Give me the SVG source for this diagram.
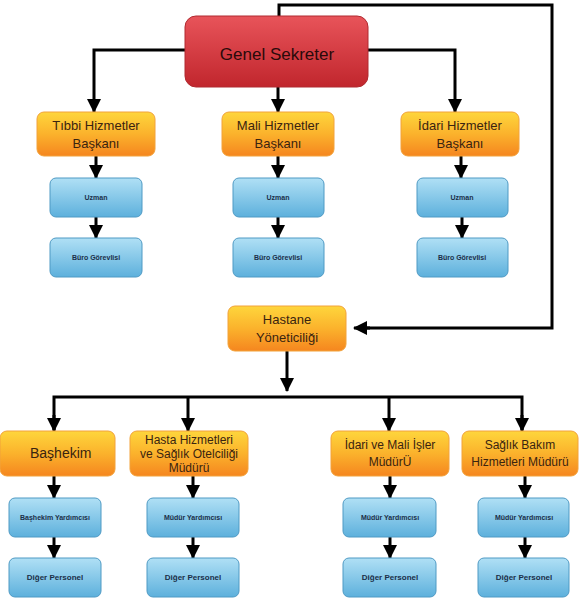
<svg xmlns="http://www.w3.org/2000/svg" width="579" height="613" viewBox="0 0 579 613">
<defs>
<linearGradient id="gRed" x1="0" y1="0" x2="0" y2="1"><stop offset="0" stop-color="#e8545a"/><stop offset="1" stop-color="#c1262d"/></linearGradient>
<linearGradient id="gOr" x1="0" y1="0" x2="0" y2="1"><stop offset="0" stop-color="#fed63c"/><stop offset="0.5" stop-color="#fbb22c"/><stop offset="1" stop-color="#f5861f"/></linearGradient>
<linearGradient id="gBl" x1="0" y1="0" x2="0" y2="1"><stop offset="0" stop-color="#b0e0f5"/><stop offset="1" stop-color="#5db0dc"/></linearGradient>
<marker id="ah" markerUnits="userSpaceOnUse" markerWidth="14" markerHeight="14" viewBox="0 0 14 14" refX="13" refY="7" orient="auto"><path d="M0,0 L14,7 L0,14 Z" fill="#000"/></marker>
</defs>
<style>
.red{fill:url(#gRed);stroke:#b02a30;stroke-width:1}
.or{fill:url(#gOr);stroke:#f2a23a;stroke-width:1}
.bl{fill:url(#gBl);stroke:#4f9ac4;stroke-width:1}
.t{font-family:"Liberation Sans Narrow","Liberation Sans",Arial,sans-serif;text-anchor:middle}
.tr{font-size:17px;fill:#2a0a0a}
.to{font-size:13px;fill:#3a2410}
.tb{font-size:7px;fill:#1b2f48;font-weight:bold}
.tb2{font-size:8px;fill:#1b2f48;font-weight:bold}
.c{fill:none;stroke:#000;stroke-width:3}
.ca{fill:none;stroke:#000;stroke-width:3;marker-end:url(#ah)}
</style>
<rect width="579" height="613" fill="#fff"/>
<g id="connectors">
<path class="c" d="M279,16 V5 H552 V328 H360"/>
<path class="ca" d="M370,328 H354"/>
<path class="ca" d="M185,50 H94 V112"/>
<path class="ca" d="M368,50 H455 V112"/>
<path class="ca" d="M278,87 V112"/>
<path class="ca" d="M96,156 V178"/>
<path class="ca" d="M96,217 V238"/>
<path class="ca" d="M278,156 V178"/>
<path class="ca" d="M278,217 V238"/>
<path class="ca" d="M461,156 V178"/>
<path class="ca" d="M462,217 V238"/>
<path class="ca" d="M287,351 V391"/>
<path class="c" d="M54,430 V397 H522 V430"/>
<path class="ca" d="M188,397 V431"/>
<path class="ca" d="M389,397 V431"/>
<path class="ca" d="M54,415 V431"/>
<path class="ca" d="M522,415 V431"/>
<path class="ca" d="M54,476 V498"/>
<path class="ca" d="M54,537 V558"/>
<path class="ca" d="M193,476 V498"/>
<path class="ca" d="M193,537 V558"/>
<path class="ca" d="M390,476 V498"/>
<path class="ca" d="M390,537 V558"/>
<path class="ca" d="M525,476 V498"/>
<path class="ca" d="M525,537 V558"/>
</g>
<g id="genel"><rect class="red" x="185" y="16" width="183" height="71" rx="11"/><text class="t tr" x="277" y="60">Genel Sekreter</text></g>
<g id="tibbi"><rect class="or" x="37" y="112" width="118" height="44" rx="7"/><text class="t to" x="96" y="130">Tıbbi Hizmetler</text><text class="t to" x="96" y="148">Başkanı</text></g>
<g id="mali"><rect class="or" x="222" y="112" width="112" height="44" rx="7"/><text class="t to" x="278" y="130">Mali Hizmetler</text><text class="t to" x="278" y="148">Başkanı</text></g>
<g id="idari"><rect class="or" x="401" y="112" width="118" height="44" rx="7"/><text class="t to" x="460" y="130">İdari Hizmetler</text><text class="t to" x="460" y="148">Başkanı</text></g>
<g id="uzman1"><rect class="bl" x="50" y="178" width="92" height="39" rx="6"/><text class="t tb" x="96" y="200">Uzman</text></g>
<g id="buro1"><rect class="bl" x="50" y="238" width="92" height="39" rx="6"/><text class="t tb" x="96" y="260">Büro Görevlisi</text></g>
<g id="uzman2"><rect class="bl" x="233" y="178" width="91" height="39" rx="6"/><text class="t tb" x="278" y="200">Uzman</text></g>
<g id="buro2"><rect class="bl" x="233" y="238" width="91" height="39" rx="6"/><text class="t tb" x="278" y="260">Büro Görevlisi</text></g>
<g id="uzman3"><rect class="bl" x="417" y="178" width="91" height="39" rx="6"/><text class="t tb" x="462" y="200">Uzman</text></g>
<g id="buro3"><rect class="bl" x="417" y="238" width="91" height="39" rx="6"/><text class="t tb" x="462" y="260">Büro Görevlisi</text></g>
<g id="hastane"><rect class="or" x="228" y="306" width="118" height="45" rx="7"/><text class="t to" x="287" y="324">Hastane</text><text class="t to" x="287" y="342">Yöneticiliği</text></g>
<g id="bashekim"><rect class="or" x="0" y="431" width="115" height="45" rx="7"/><text class="t to" x="30" y="458" style="text-anchor:start;font-size:14px">Başhekim</text></g>
<g id="hasta"><rect class="or" x="130" y="431" width="118" height="45" rx="7"/><text class="t to" x="189" y="444" style="font-size:12px">Hasta Hizmetleri</text><text class="t to" x="189" y="458" style="font-size:12px">ve Sağlık Otelciliği</text><text class="t to" x="189" y="472" style="font-size:12px">Müdürü</text></g>
<g id="idarimali"><rect class="or" x="331" y="431" width="118" height="45" rx="7"/><text class="t to" x="390" y="449" style="font-size:12px">İdari ve Mali İşler</text><text class="t to" x="390" y="466" style="font-size:12px">MüdürÜ</text></g>
<g id="saglik"><rect class="or" x="462" y="431" width="116" height="45" rx="7"/><text class="t to" x="520" y="449" style="font-size:12px">Sağlık Bakım</text><text class="t to" x="520" y="466" style="font-size:12px">Hizmetleri Müdürü</text></g>
<g id="bashekimyrd"><rect class="bl" x="9" y="498" width="92" height="39" rx="6"/><text class="t tb" x="55" y="520">Başhekim Yardımcısı</text></g>
<g id="diger1"><rect class="bl" x="9" y="558" width="92" height="39" rx="6"/><text class="t tb2" x="55" y="580">Diğer Personel</text></g>
<g id="mudyrd1"><rect class="bl" x="147" y="498" width="92" height="39" rx="6"/><text class="t tb" x="193" y="520">Müdür Yardımcısı</text></g>
<g id="diger2"><rect class="bl" x="147" y="558" width="92" height="39" rx="6"/><text class="t tb2" x="193" y="580">Diğer Personel</text></g>
<g id="mudyrd2"><rect class="bl" x="343" y="498" width="93" height="39" rx="6"/><text class="t tb" x="390" y="520">Müdür Yardımcısı</text></g>
<g id="diger3"><rect class="bl" x="343" y="558" width="93" height="39" rx="6"/><text class="t tb2" x="390" y="580">Diğer Personel</text></g>
<g id="mudyrd3"><rect class="bl" x="478" y="498" width="91" height="39" rx="6"/><text class="t tb" x="524" y="520">Müdür Yardımcısı</text></g>
<g id="diger4"><rect class="bl" x="478" y="558" width="91" height="39" rx="6"/><text class="t tb2" x="524" y="580">Diğer Personel</text></g>
</svg>
